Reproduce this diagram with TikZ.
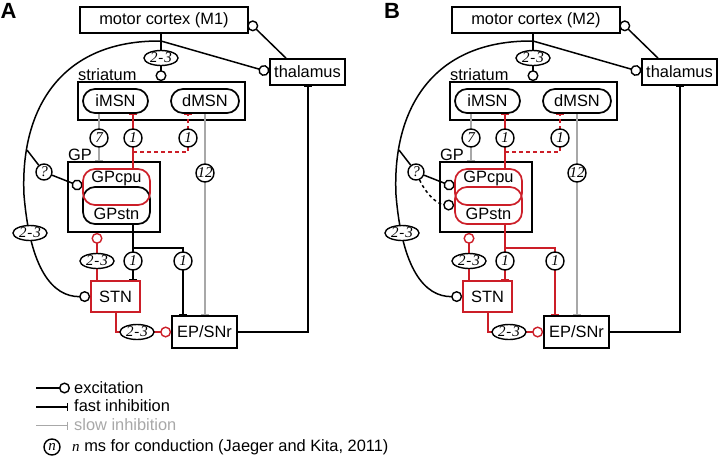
\documentclass[tikz,border=0pt]{standalone}
\usepackage{fontspec}
\setmainfont{Liberation Sans}
\newfontfamily\delayfont{Liberation Serif}
\usetikzlibrary{arrows.meta,shapes.geometric,calc}
\definecolor{myred}{RGB}{204,30,40}
\definecolor{mygray}{RGB}{168,168,168}
\tikzset{
  txtfont/.style={font=\fontsize{16.4}{19}\selectfont},
  lbl/.style={txtfont, inner sep=0pt},
  box/.style={draw, line width=1.7pt, rectangle, inner sep=0pt, txtfont},
  stad/.style={draw, line width=1.7pt, rectangle, rounded corners=12pt, inner sep=0pt, txtfont},
  ln/.style={line width=1.5pt},
  dly/.style={draw, line width=1.4pt, fill=white, circle, inner sep=0pt, minimum size=18pt,
    font=\fontsize{15}{15}\delayfont\itshape},
  dlye/.style={draw, line width=1.4pt, fill=white, ellipse, inner sep=0pt, minimum width=34pt,
    minimum height=15pt, font=\fontsize{15}{15}\delayfont\itshape},
  exc/.style={ln, -{Circle[open, length=11pt, width=11pt, line width=1.4pt]}},
  inh/.style={ln, -{Bar[width=8pt, line width=1.4pt]}},
  sinh/.style={ln, mygray, -{Bar[width=8pt, line width=1.4pt]}},
  reddash/.style={dash pattern=on 4pt off 3pt},
  letter/.style={font=\fontsize{22}{22}\selectfont\bfseries, inner sep=0pt},
}
\newcommand\twothree{2\kern1pt-\kern1pt3}
% #1 shift, #2 prefix, #3 cortex label, #4 GPstn colour
\newcommand\drawpanel[4]{%
\begin{scope}[shift={(#1,0)}, name prefix=#2-]
  \coordinate (c7) at (99,0);
  \coordinate (c1) at (133,0);
  \coordinate (cd) at (188,0);
  \coordinate (c12) at (205,0);
  \coordinate (cs) at (97,0);
  \coordinate (ce) at (183,0);
  \coordinate (cth) at (308,0);
  \coordinate (co) at (116,0);
  \coordinate (ct) at (286,0);
  % boxes
  \node[box, minimum width=168pt, minimum height=26pt] (cortex) at (164,20) {motor cortex (#3)};
  \node[box, minimum width=75pt, minimum height=26pt] (thal) at (307.5,72) {thalamus};
  \node[box, minimum width=167pt, minimum height=38pt] (str) at (161.5,101) {};
  \node[lbl, anchor=base west] (strl) at (78,80) {striatum};
  \node[stad, minimum width=65pt, minimum height=24pt] (imsn) at (115.5,101) {iMSN};
  \node[stad, minimum width=68pt, minimum height=24pt] (dmsn) at (205,101) {dMSN};
  \node[box, minimum width=92pt, minimum height=70pt] (gp) at (114,197) {};
  \node[lbl, anchor=base west] (gpl) at (68,160) {GP};
  \node[stad, draw=#4, minimum width=67pt, minimum height=37pt] (gpstn) at (116.5,205.5) {};
  \node[stad, draw=myred, minimum width=67pt, minimum height=36pt] (gpcpu) at (116.5,187) {};
  \node[lbl] (gpcput) at (116.5,178.5) {GPcpu};
  \node[lbl] (gpstnt) at (116.5,214) {GPstn};
  \node[box, draw=myred, minimum width=49pt, minimum height=31pt] (stn) at (115.5,296.5) {STN};
  \node[box, minimum width=65pt, minimum height=32pt] (ep) at (204.5,332) {EP/SNr};
  % cortex outputs
  \coordinate (j) at (161,41);
  \draw[ln] (cortex.south -| j) -- (j);
  \draw[exc] (j) -- (j |- str.north);
  \draw[exc] (j) -- (thal.west);
  \draw[exc] (thal.north -| ct) -- ($(cortex.east)+(0,2)$);
  \draw[exc] (j) .. controls (60,40) and (20,110) .. (24,195)
                 .. controls (30,268) and (52,297) .. (stn.west);
  \coordinate (qj) at (27,150);
  \node[dly, minimum size=16pt] (q) at (44,172) {?};
  \draw[ln] (qj) -- (q);
  \draw[exc] (q) -- (gpcpu.west);
  % striatum outputs
  \draw[inh, myred] (gpcpu.north -| c1) -- (imsn.south -| c1);
  \coordinate (dj) at (133,152);
  \draw[inh, myred, reddash] (dj) -| (dmsn.south -| cd);
  \draw[sinh] (imsn.south -| c7) -- (gp.north -| c7);
  \draw[sinh] (dmsn.south -| c12) -- (ep.north -| c12);
  % GP / STN
  \draw[exc, myred] (stn.north -| cs) -- (gp.south -| cs);
  \coordinate (gj) at (133,248);
  \draw[inh, draw=#4] (gpstn.south -| c1) -- (stn.north -| c1);
  \draw[inh, draw=#4] (gj) -| (ep.north -| ce);
  \draw[exc, myred] (stn.south -| co) |- (ep.west);
  \draw[inh] (ep.east) -| (thal.south -| cth);
  % delay labels
  \node[dlye] (d1) at (161,58) {\twothree};
  \node[dlye] (d2) at (30,233) {\twothree};
  \node[dly] (d3) at (99,138) {7};
  \node[dly] (d4) at (133,138) {1};
  \node[dly] (d5) at (188,138) {1};
  \node[dly] (d6) at (205,173) {12};
  \node[dlye] (d7) at (97,261) {\twothree};
  \node[dly] (d8) at (133,261) {1};
  \node[dly] (d9) at (183,261) {1};
  \node[dlye] (d10) at (137,332) {\twothree};
\end{scope}}

\begin{document}
\begin{tikzpicture}[x=1pt,y=-1pt]
\useasboundingbox (0,0) rectangle (718,459);
\node[letter] (la) at (8.5,11) {A};
\node[letter] (lb) at (392,11) {B};
\drawpanel{0}{a}{M1}{black}
\drawpanel{372}{b}{M2}{myred}
% extra dashed input in panel B
\begin{scope}[shift={(372,0)}]
  \draw[exc, dashed] (b-q) .. controls (53,192) and (64,204) .. (b-gpstn.west);
\end{scope}
% legend
\node[lbl, anchor=base west] (lg1) at (74,393) {excitation};
\node[lbl, anchor=base west] (lg2) at (74,411.5) {fast inhibition};
\node[lbl, anchor=base west, text=mygray] (lg3) at (74,430) {slow inhibition};
\coordinate (lg1s) at (36,388);
\coordinate (lg1e) at (70,388);
\coordinate (lg2s) at (36,407);
\coordinate (lg2e) at (68,407);
\coordinate (lg3s) at (36,425.5);
\coordinate (lg3e) at (68,425.5);
\draw[exc] (lg1s) -- (lg1e);
\draw[inh] (lg2s) -- (lg2e);
\draw[sinh] (lg3s) -- (lg3e);
\node[dly, minimum size=16pt] (lgn) at (52,447) {n};
\node[lbl, anchor=base west] (lg4) at (72,451) {{\fontsize{15}{15}\delayfont\itshape n} ms for conduction (Jaeger and Kita, 2011)};
\end{tikzpicture}
\end{document}
